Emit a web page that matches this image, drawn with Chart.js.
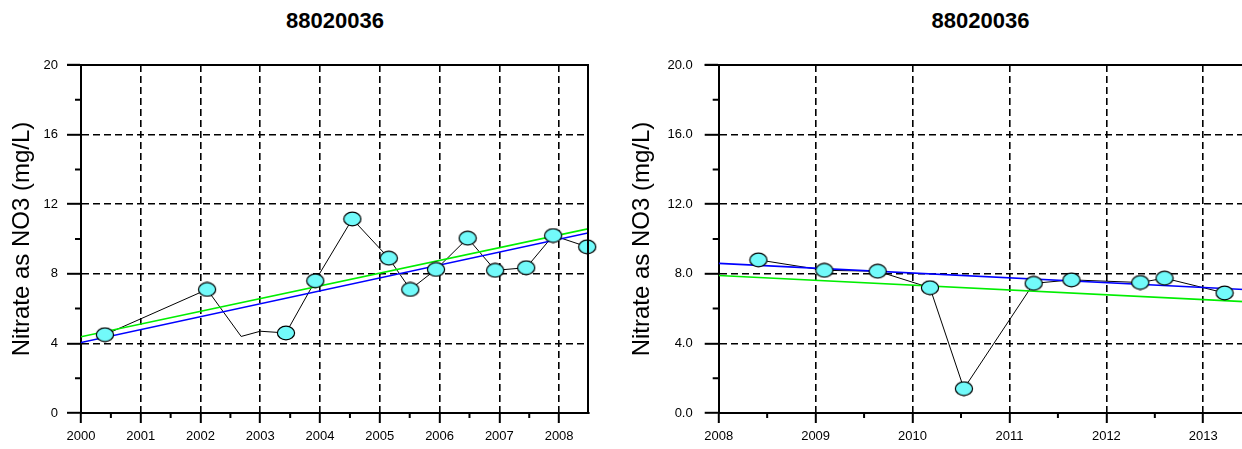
<!DOCTYPE html>
<html>
<head>
<meta charset="utf-8">
<script src="https://cdn.jsdelivr.net/npm/chart.js@4.4.0/dist/chart.umd.min.js"></script>
<style>
  body { margin: 0; background: #fff; width: 1242px; height: 449px; position: relative; overflow: hidden;
         font-family: "Liberation Sans", Arial, sans-serif; }
  canvas { position: absolute; top: 0; }
  .title { position: absolute; top: 10px; font-weight: bold; font-size: 22px; line-height: 22px;
           text-align: center; color: #000; }
</style>
</head>
<body>
<div class="title" style="left:81px;width:508px">88020036</div>
<div class="title" style="left:719px;width:523px">88020036</div>
<canvas id="left" width="620" height="449" style="left:0"></canvas>
<canvas id="right" width="634" height="449" style="left:620px"></canvas>
<script>
// left panel, 2000 - 2008
const leftDates = [2000.40, 2002.11, 2003.43, 2003.92, 2004.54, 2005.15, 2005.51, 2005.94, 2006.47, 2006.93, 2007.45, 2007.90, 2008.47];
const leftNitrate = [4.5, 7.1, 4.6, 7.6, 11.15, 8.9, 7.1, 8.25, 10.05, 8.2, 8.35, 10.2, 9.55];
// bends of the black line that have no marker
const leftBendDates = [2002.68, 2003.0];
const leftBendValues = [4.4, 4.7];
const leftTrendDates = [2000, 2008.5];
const leftTrendBlue = [4.05, 10.36];
const leftTrendGreen = [4.38, 10.6];

// right panel, 2008 - 2013
const rightDates = [2008.41, 2009.09, 2009.64, 2010.18, 2010.53, 2011.25, 2011.64, 2012.35, 2012.60, 2013.22];
const rightNitrate = [8.8, 8.2, 8.15, 7.2, 1.4, 7.45, 7.65, 7.5, 7.75, 6.9];
const rightTrendDates = [2008, 2013.42];
const rightTrendBlue = [8.6, 7.1];
const rightTrendGreen = [7.9, 6.4];

const yMin = 0, yMax = 20, yStep = 4;
const yTitle = "Nitrate as NO3 (mg/L)";

Chart.defaults.font.family = "'Liberation Sans', Arial, sans-serif";

const toXY = (xs, ys) => xs.map((x, i) => ({ x: x, y: ys[i] }));

// cyan oval marker
const marker = document.createElement("canvas");
marker.width = 20;
marker.height = 16;
const m = marker.getContext("2d");
m.beginPath();
m.ellipse(10, 8, 8.6, 6.8, 0, 0, Math.PI * 2);
m.fillStyle = "#72fafa";
m.fill();
m.lineWidth = 1.2;
m.strokeStyle = "#000";
m.stroke();

// top frame line, optional right frame line, minor ticks
const frame = {
  id: "frame",
  afterDraw(chart, args, opts) {
    const { ctx, chartArea: a, scales: { x, y } } = chart;
    ctx.save();
    ctx.strokeStyle = "#000";
    ctx.lineWidth = 2;
    ctx.beginPath();
    ctx.moveTo(a.left - 14, a.top);
    ctx.lineTo(a.right, a.top);
    if (opts.rightBorder) {
      ctx.moveTo(a.right - 1, a.top);
      ctx.lineTo(a.right - 1, a.bottom);
    }
    for (let v = yMin + yStep / 2; v < yMax; v += yStep) {
      const py = y.getPixelForValue(v);
      ctx.moveTo(a.left - 6, py);
      ctx.lineTo(a.left, py);
    }
    for (let v = Math.ceil(x.min) + 0.5; v < x.max; v += 1) {
      const px = x.getPixelForValue(v);
      ctx.moveTo(px, a.bottom);
      ctx.lineTo(px, a.bottom + 5);
    }
    ctx.stroke();
    ctx.restore();
  }
};

function makeChart(id, o) {
  return new Chart(document.getElementById(id), {
    type: "scatter",
    data: {
      datasets: [
        { data: o.points, pointStyle: marker, pointRadius: 9, showLine: false, clip: false },
        { data: o.blue, showLine: true, borderColor: "#0000ff", borderWidth: 1.6, pointRadius: 0 },
        { data: o.green, showLine: true, borderColor: "#00ee00", borderWidth: 1.6, pointRadius: 0 },
        { data: o.line, showLine: true, borderColor: "#000", borderWidth: 1, pointRadius: 0 }
      ]
    },
    options: {
      responsive: false,
      animation: false,
      events: [],
      layout: { padding: { top: 65, right: o.padRight, left: 0, bottom: 0 } },
      plugins: {
        legend: { display: false },
        tooltip: { enabled: false },
        frame: { rightBorder: o.rightBorder }
      },
      scales: {
        x: {
          type: "linear",
          min: o.xMin,
          max: o.xMax,
          afterFit: s => { s.height = 36; },
          ticks: {
            stepSize: 1, includeBounds: false, padding: 6, maxRotation: 0, autoSkip: false,
            color: "#000", font: { size: 13 },
            callback: v => String(v)
          },
          grid: {
            color: c => (c.tick && c.tick.value === o.xMin) ? "rgba(0,0,0,0)" : "#000",
            lineWidth: 1.6, tickLength: 10, tickWidth: 2, tickColor: "#000"
          },
          border: { display: true, color: "#000", width: 2, dash: [7, 4] }
        },
        y: {
          min: yMin,
          max: yMax,
          afterFit: s => { s.width = o.yWidth; },
          ticks: {
            stepSize: yStep, padding: o.yPad, color: "#000", font: { size: 13 },
            callback: v => o.decimals ? v.toFixed(1) : String(v)
          },
          grid: {
            color: c => (c.tick && (c.tick.value === yMin || c.tick.value === yMax)) ? "rgba(0,0,0,0)" : "#000",
            lineWidth: 1.6, tickLength: 14, tickWidth: 2, tickColor: "#000"
          },
          border: { display: true, color: "#000", width: 2, dash: [7, 4] },
          title: {
            display: true, text: yTitle, color: "#000",
            font: { size: 24 }, padding: { top: 8, bottom: 0 }
          }
        }
      }
    },
    plugins: [frame]
  });
}

const leftLine = toXY(leftDates.concat(leftBendDates), leftNitrate.concat(leftBendValues)).sort((a, b) => a.x - b.x);

makeChart("left", {
  points: toXY(leftDates, leftNitrate),
  line: leftLine,
  blue: toXY(leftTrendDates, leftTrendBlue),
  green: toXY(leftTrendDates, leftTrendGreen),
  xMin: 2000, xMax: 2008.5,
  yWidth: 81, yPad: 9, padRight: 31, decimals: false, rightBorder: true
});

makeChart("right", {
  points: toXY(rightDates, rightNitrate),
  line: toXY(rightDates, rightNitrate),
  blue: toXY(rightTrendDates, rightTrendBlue),
  green: toXY(rightTrendDates, rightTrendGreen),
  xMin: 2008, xMax: 2013.42,
  yWidth: 98.7, yPad: 12, padRight: 0, decimals: true, rightBorder: false
});
</script>
</body>
</html>
